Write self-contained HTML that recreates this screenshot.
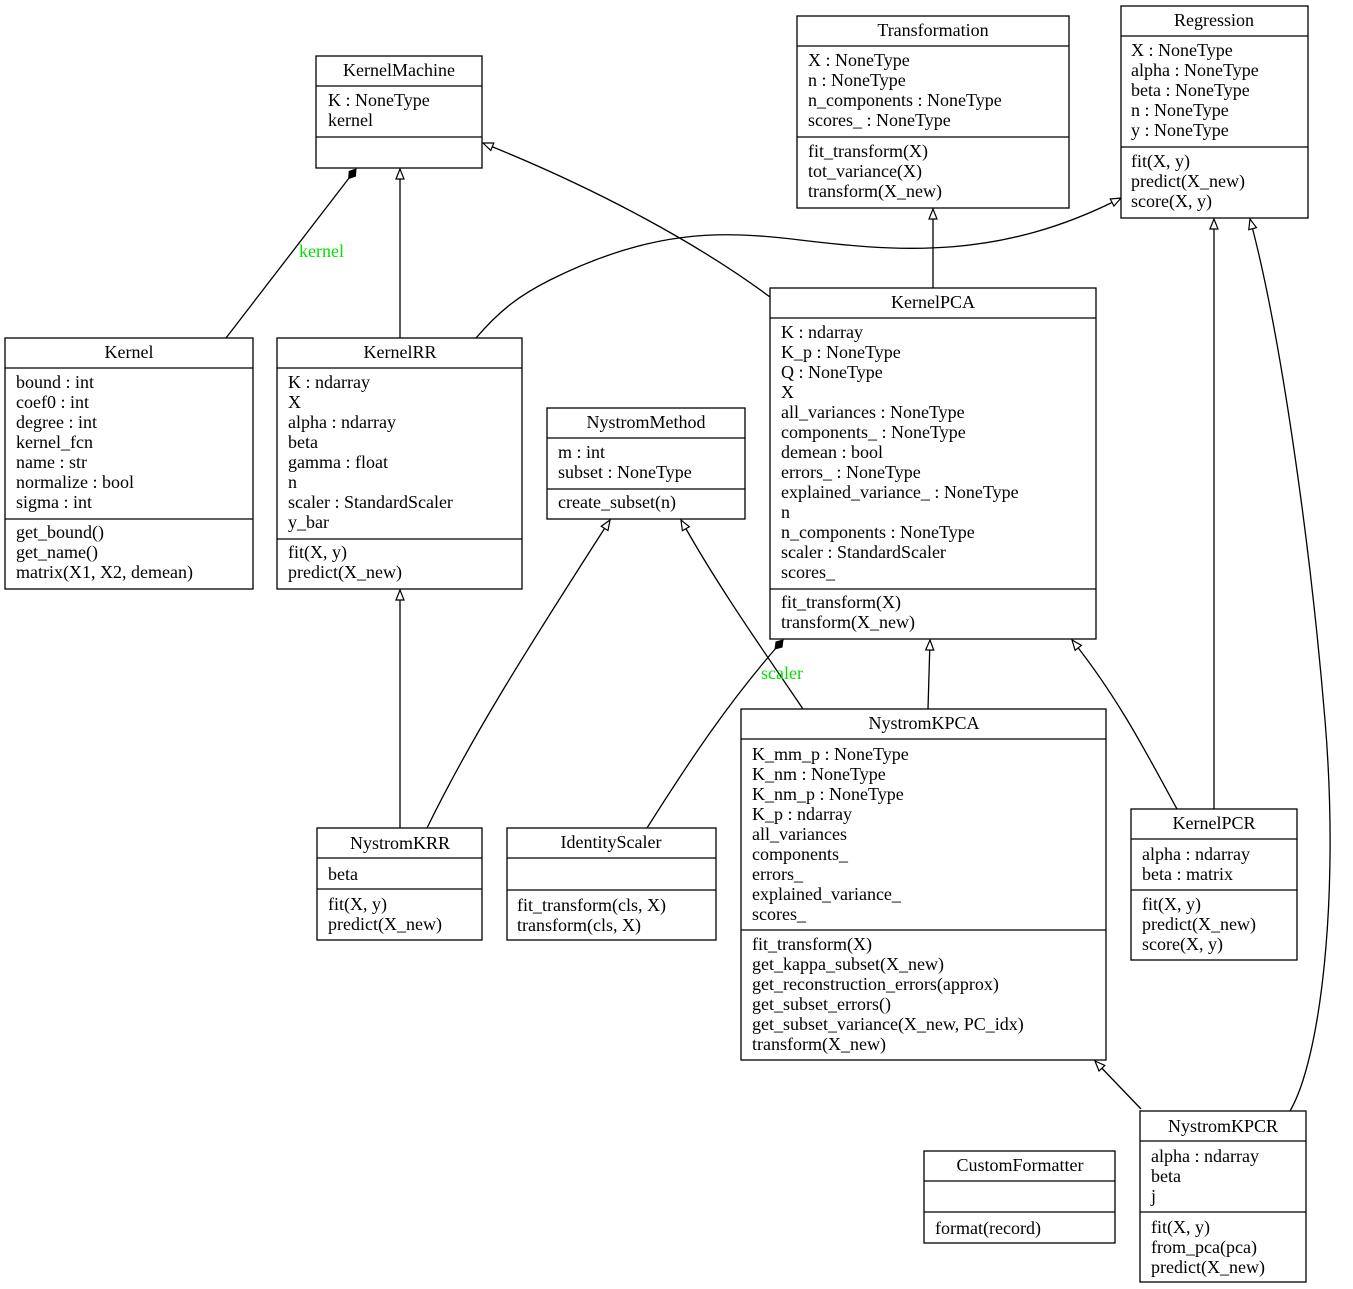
<!DOCTYPE html>
<html><head><meta charset="utf-8"><style>
html,body{margin:0;padding:0;background:#fff}
svg{display:block}
text{font-family:"Liberation Serif",serif;font-size:18px;fill:#000}
.c{text-anchor:middle}
.g{fill:#00e000}
rect{fill:#fff;stroke:#000;stroke-width:1.3}
line.s{stroke:#000;stroke-width:1.3}
path.e,line.e{stroke:#000;stroke-width:1.3;fill:none}
</style></head><body>
<svg width="1353" height="1289" viewBox="0 0 1353 1289" xmlns="http://www.w3.org/2000/svg">
<defs>
<marker id="t" markerUnits="userSpaceOnUse" markerWidth="12" markerHeight="10" refX="11" refY="5" orient="auto"><path d="M1,1 L11,5 L1,9 z" fill="#fff" stroke="#000" stroke-width="1.2"/></marker>
<marker id="d" markerUnits="userSpaceOnUse" markerWidth="14" markerHeight="10" refX="13" refY="5" orient="auto"><path d="M1,5 L7,1 L13,5 L7,9 z" fill="#000" stroke="#000"/></marker>
</defs>

<!-- edges -->
<path class="e" d="M226,338 L356,169" marker-end="url(#d)"/>
<text x="299" y="257" class="g">kernel</text>
<line class="e" x1="400" y1="338" x2="400" y2="169" marker-end="url(#t)"/>
<path class="e" d="M770,297 C700,245 600,190 483,143" marker-end="url(#t)"/>
<path class="e" d="M476,338 C500,310 520,295 550,280 C650,230 720,230 800,240 C900,252 1000,260 1121,198" marker-end="url(#t)"/>
<line class="e" x1="933" y1="288" x2="933" y2="209" marker-end="url(#t)"/>
<line class="e" x1="1214" y1="809" x2="1214" y2="219" marker-end="url(#t)"/>
<path class="e" d="M1290,1111 C1320,1060 1340,900 1325,720 C1310,540 1280,330 1250,219" marker-end="url(#t)"/>
<line class="e" x1="400" y1="828" x2="400" y2="590" marker-end="url(#t)"/>
<path class="e" d="M427,828 C470,740 520,660 610,520" marker-end="url(#t)"/>
<path class="e" d="M803,709 C770,660 720,590 681,520" marker-end="url(#t)"/>
<path class="e" d="M647,828 C690,760 730,700 783,640" marker-end="url(#d)"/>
<text x="761" y="679" class="g">scaler</text>
<line class="e" x1="928" y1="709" x2="930" y2="640" marker-end="url(#t)"/>
<path class="e" d="M1177,809 C1150,760 1120,700 1072,640" marker-end="url(#t)"/>
<line class="e" x1="1141" y1="1109" x2="1095" y2="1061" marker-end="url(#t)"/>

<!-- KernelMachine -->
<rect x="316" y="56" width="166" height="112"/>
<line class="s" x1="316" y1="86" x2="482" y2="86"/><line class="s" x1="316" y1="137" x2="482" y2="137"/>
<text x="399" y="76" class="c">KernelMachine</text>
<text x="328" y="106">K : NoneType</text><text x="328" y="126">kernel</text>

<!-- Transformation -->
<rect x="797" y="16" width="272" height="192"/>
<line class="s" x1="797" y1="46" x2="1069" y2="46"/><line class="s" x1="797" y1="137" x2="1069" y2="137"/>
<text x="933" y="36" class="c">Transformation</text>
<text x="808" y="66">X : NoneType</text><text x="808" y="86">n : NoneType</text><text x="808" y="106">n_components : NoneType</text><text x="808" y="126">scores_ : NoneType</text>
<text x="808" y="157">fit_transform(X)</text><text x="808" y="177">tot_variance(X)</text><text x="808" y="197">transform(X_new)</text>

<!-- Regression -->
<rect x="1121" y="6" width="187" height="212"/>
<line class="s" x1="1121" y1="36" x2="1308" y2="36"/><line class="s" x1="1121" y1="147" x2="1308" y2="147"/>
<text x="1214" y="26" class="c">Regression</text>
<text x="1131" y="56">X : NoneType</text><text x="1131" y="76">alpha : NoneType</text><text x="1131" y="96">beta : NoneType</text><text x="1131" y="116">n : NoneType</text><text x="1131" y="136">y : NoneType</text>
<text x="1131" y="167">fit(X, y)</text><text x="1131" y="187">predict(X_new)</text><text x="1131" y="207">score(X, y)</text>

<!-- Kernel -->
<rect x="5" y="338" width="248" height="251"/>
<line class="s" x1="5" y1="368" x2="253" y2="368"/><line class="s" x1="5" y1="519" x2="253" y2="519"/>
<text x="129" y="358" class="c">Kernel</text>
<text x="16" y="388">bound : int</text><text x="16" y="408">coef0 : int</text><text x="16" y="428">degree : int</text><text x="16" y="448">kernel_fcn</text><text x="16" y="468">name : str</text><text x="16" y="488">normalize : bool</text><text x="16" y="508">sigma : int</text>
<text x="16" y="538">get_bound()</text><text x="16" y="558">get_name()</text><text x="16" y="578">matrix(X1, X2, demean)</text>

<!-- KernelRR -->
<rect x="277" y="338" width="245" height="251"/>
<line class="s" x1="277" y1="368" x2="522" y2="368"/><line class="s" x1="277" y1="539" x2="522" y2="539"/>
<text x="400" y="358" class="c">KernelRR</text>
<text x="288" y="388">K : ndarray</text><text x="288" y="408">X</text><text x="288" y="428">alpha : ndarray</text><text x="288" y="448">beta</text><text x="288" y="468">gamma : float</text><text x="288" y="488">n</text><text x="288" y="508">scaler : StandardScaler</text><text x="288" y="528">y_bar</text>
<text x="288" y="558">fit(X, y)</text><text x="288" y="578">predict(X_new)</text>

<!-- NystromMethod -->
<rect x="547" y="408" width="198" height="111"/>
<line class="s" x1="547" y1="438" x2="745" y2="438"/><line class="s" x1="547" y1="489" x2="745" y2="489"/>
<text x="646" y="428" class="c">NystromMethod</text>
<text x="558" y="458">m : int</text><text x="558" y="478">subset : NoneType</text>
<text x="558" y="508">create_subset(n)</text>

<!-- KernelPCA -->
<rect x="770" y="288" width="326" height="351"/>
<line class="s" x1="770" y1="318" x2="1096" y2="318"/><line class="s" x1="770" y1="589" x2="1096" y2="589"/>
<text x="933" y="308" class="c">KernelPCA</text>
<text x="781" y="338">K : ndarray</text><text x="781" y="358">K_p : NoneType</text><text x="781" y="378">Q : NoneType</text><text x="781" y="398">X</text><text x="781" y="418">all_variances : NoneType</text><text x="781" y="438">components_ : NoneType</text><text x="781" y="458">demean : bool</text><text x="781" y="478">errors_ : NoneType</text><text x="781" y="498">explained_variance_ : NoneType</text><text x="781" y="518">n</text><text x="781" y="538">n_components : NoneType</text><text x="781" y="558">scaler : StandardScaler</text><text x="781" y="578">scores_</text>
<text x="781" y="608">fit_transform(X)</text><text x="781" y="628">transform(X_new)</text>

<!-- NystromKPCA -->
<rect x="741" y="709" width="365" height="351"/>
<line class="s" x1="741" y1="739" x2="1106" y2="739"/><line class="s" x1="741" y1="930" x2="1106" y2="930"/>
<text x="924" y="729" class="c">NystromKPCA</text>
<text x="752" y="760">K_mm_p : NoneType</text><text x="752" y="780">K_nm : NoneType</text><text x="752" y="800">K_nm_p : NoneType</text><text x="752" y="820">K_p : ndarray</text><text x="752" y="840">all_variances</text><text x="752" y="860">components_</text><text x="752" y="880">errors_</text><text x="752" y="900">explained_variance_</text><text x="752" y="920">scores_</text>
<text x="752" y="950">fit_transform(X)</text><text x="752" y="970">get_kappa_subset(X_new)</text><text x="752" y="990">get_reconstruction_errors(approx)</text><text x="752" y="1010">get_subset_errors()</text><text x="752" y="1030">get_subset_variance(X_new, PC_idx)</text><text x="752" y="1050">transform(X_new)</text>

<!-- KernelPCR -->
<rect x="1131" y="809" width="166" height="151"/>
<line class="s" x1="1131" y1="839" x2="1297" y2="839"/><line class="s" x1="1131" y1="890" x2="1297" y2="890"/>
<text x="1214" y="829" class="c">KernelPCR</text>
<text x="1142" y="860">alpha : ndarray</text><text x="1142" y="880">beta : matrix</text>
<text x="1142" y="910">fit(X, y)</text><text x="1142" y="930">predict(X_new)</text><text x="1142" y="950">score(X, y)</text>

<!-- NystromKRR -->
<rect x="317" y="828" width="165" height="112"/>
<line class="s" x1="317" y1="858" x2="482" y2="858"/><line class="s" x1="317" y1="889" x2="482" y2="889"/>
<text x="400" y="849" class="c">NystromKRR</text>
<text x="328" y="880">beta</text>
<text x="328" y="910">fit(X, y)</text><text x="328" y="930">predict(X_new)</text>

<!-- IdentityScaler -->
<rect x="507" y="828" width="209" height="112"/>
<line class="s" x1="507" y1="858" x2="716" y2="858"/><line class="s" x1="507" y1="890" x2="716" y2="890"/>
<text x="611" y="848" class="c">IdentityScaler</text>
<text x="517" y="911">fit_transform(cls, X)</text><text x="517" y="931">transform(cls, X)</text>

<!-- CustomFormatter -->
<rect x="924" y="1151" width="191" height="92"/>
<line class="s" x1="924" y1="1181" x2="1115" y2="1181"/><line class="s" x1="924" y1="1212" x2="1115" y2="1212"/>
<text x="1020" y="1171" class="c">CustomFormatter</text>
<text x="935" y="1234">format(record)</text>

<!-- NystromKPCR -->
<rect x="1140" y="1111" width="166" height="171"/>
<line class="s" x1="1140" y1="1141" x2="1306" y2="1141"/><line class="s" x1="1140" y1="1212" x2="1306" y2="1212"/>
<text x="1223" y="1132" class="c">NystromKPCR</text>
<text x="1151" y="1162">alpha : ndarray</text><text x="1151" y="1182">beta</text><text x="1151" y="1202">j</text>
<text x="1151" y="1233">fit(X, y)</text><text x="1151" y="1253">from_pca(pca)</text><text x="1151" y="1273">predict(X_new)</text>
</svg>
</body></html>
